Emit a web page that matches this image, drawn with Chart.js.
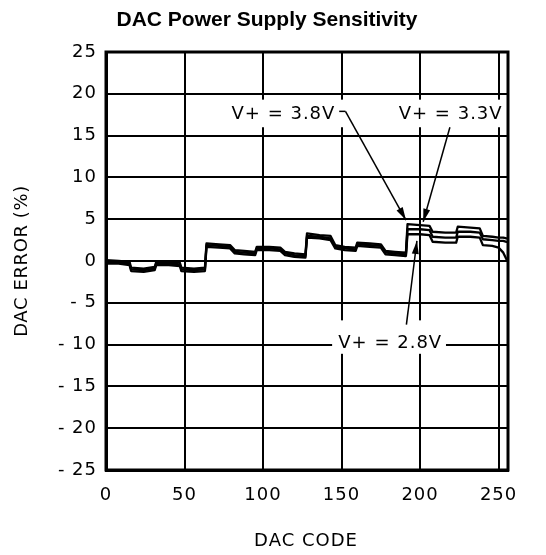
<!DOCTYPE html>
<html>
<head>
<meta charset="utf-8">
<script src="https://cdn.jsdelivr.net/npm/chart.js@4"></script>
<style>
  html, body { margin: 0; padding: 0; background: #fff; }
</style>
</head>
<body>
<canvas id="chart" width="546" height="555"></canvas>
<script>
// DAC code breakpoints (x) and error in % for the three supply voltages
const codes = [0, 8, 15, 16, 24, 31, 32, 40, 47, 48, 56, 63, 64, 72, 79, 82, 88, 95, 96, 104, 111, 114, 120, 127,
  128, 136, 143, 146, 152, 159, 160, 168, 175, 178, 184, 191, 192, 200, 206, 208, 216, 223, 224, 232, 238, 240, 246, 250, 253, 255];

const err38 = [0.1, 0.0, -0.1, -0.8, -0.9, -0.7, -0.1, -0.1, -0.2, -0.8, -0.9, -0.8, 2.1, 2.0, 1.9, 1.3, 1.2, 1.1, 1.7, 1.7, 1.6, 1.1, 0.9, 0.8,
  3.3, 3.1, 3.0, 1.9, 1.7, 1.6, 2.2, 2.1, 2.0, 1.2, 1.1, 1.0, 4.4, 4.3, 4.2, 3.5, 3.4, 3.4, 4.1, 4.0, 3.9, 3.0, 2.9, 2.8, 2.8, 2.7];

const err33 = [-0.1, -0.15, -0.3, -1.0, -1.1, -0.9, -0.3, -0.3, -0.4, -1.0, -1.1, -1.0, 1.9, 1.8, 1.7, 1.1, 1.0, 0.9, 1.5, 1.5, 1.4, 0.9, 0.7, 0.6,
  3.0, 2.9, 2.7, 1.7, 1.5, 1.4, 2.0, 1.9, 1.8, 1.0, 0.9, 0.8, 3.8, 3.8, 3.7, 2.9, 2.8, 2.8, 3.5, 3.5, 3.4, 2.6, 2.5, 2.4, 2.4, 2.3];

const err28 = [-0.3, -0.3, -0.5, -1.2, -1.3, -1.1, -0.5, -0.5, -0.6, -1.2, -1.3, -1.2, 1.7, 1.6, 1.5, 0.9, 0.8, 0.7, 1.3, 1.3, 1.2, 0.7, 0.5, 0.4,
  2.8, 2.7, 2.5, 1.5, 1.3, 1.2, 1.8, 1.7, 1.6, 0.8, 0.7, 0.6, 3.2, 3.2, 3.1, 2.3, 2.2, 2.2, 2.9, 2.9, 2.8, 1.9, 1.8, 1.6, 1.0, 0.2];

const xTicks = [0, 50, 100, 150, 200, 250];
const yTicks = [-25, -20, -15, -10, -5, 0, 5, 10, 15, 20, 25];

const labelFont = '18px "DejaVu Sans"';
const spacing = '1px';

function series(vals) {
  return codes.map((c, i) => ({ x: c, y: vals[i] }));
}

function arrow(ctx, x0, y0, x1, y1) {
  ctx.beginPath();
  ctx.moveTo(x0, y0);
  ctx.lineTo(x1, y1);
  ctx.stroke();
  const a = Math.atan2(y1 - y0, x1 - x0);
  const len = 13, w = 3.5;
  ctx.beginPath();
  ctx.moveTo(x1, y1);
  ctx.lineTo(x1 - len * Math.cos(a) + w * Math.sin(a), y1 - len * Math.sin(a) - w * Math.cos(a));
  ctx.lineTo(x1 - len * Math.cos(a) - w * Math.sin(a), y1 - len * Math.sin(a) + w * Math.cos(a));
  ctx.closePath();
  ctx.fill();
}

const notes = {
  id: 'notes',
  beforeDraw(chart) {
    chart.ctx.letterSpacing = spacing;
  },
  afterDatasetsDraw(chart) {
    const { ctx, chartArea: a, scales: { x, y } } = chart;
    ctx.save();

    // frame
    ctx.strokeStyle = '#000';
    ctx.lineWidth = 3;
    ctx.strokeRect(a.left, a.top, a.right - a.left, a.bottom - a.top);

    // white boxes behind the labels
    ctx.fillStyle = '#fff';
    ctx.fillRect(x.getPixelForValue(77), y.getPixelForValue(19.3),
      x.getPixelForValue(254.5) - x.getPixelForValue(77), y.getPixelForValue(16.0) - y.getPixelForValue(19.3));
    ctx.fillRect(x.getPixelForValue(144), y.getPixelForValue(-7.1),
      x.getPixelForValue(216.5) - x.getPixelForValue(144), y.getPixelForValue(-11.1) - y.getPixelForValue(-7.1));

    ctx.fillStyle = '#000';
    ctx.font = labelFont;
    ctx.letterSpacing = spacing;
    ctx.textAlign = 'center';
    ctx.textBaseline = 'middle';
    ctx.fillText('V+ = 3.8V', x.getPixelForValue(113), y.getPixelForValue(17.5));
    ctx.fillText('V+ = 3.3V', x.getPixelForValue(219.5), y.getPixelForValue(17.5));
    ctx.fillText('V+ = 2.8V', x.getPixelForValue(181), y.getPixelForValue(-9.8));

    // leaders
    ctx.lineWidth = 1.5;
    ctx.beginPath();
    ctx.moveTo(x.getPixelForValue(148.5), y.getPixelForValue(17.9));
    ctx.lineTo(x.getPixelForValue(152.5), y.getPixelForValue(17.9));
    ctx.stroke();
    arrow(ctx, x.getPixelForValue(152.5), y.getPixelForValue(17.9), x.getPixelForValue(191), y.getPixelForValue(4.9));
    arrow(ctx, x.getPixelForValue(219), y.getPixelForValue(16.0), x.getPixelForValue(202), y.getPixelForValue(4.7));
    arrow(ctx, x.getPixelForValue(191.3), y.getPixelForValue(-7.6), x.getPixelForValue(198), y.getPixelForValue(2.4));

    // titles
    ctx.fillText('DAC CODE', 306, 541);
    ctx.save();
    ctx.translate(22, 261);
    ctx.rotate(-Math.PI / 2);
    ctx.letterSpacing = '0.6px';
    ctx.fillText('DAC ERROR (%)', 0, 0);
    ctx.restore();
    ctx.letterSpacing = '0px';
    ctx.font = 'bold 21px "Liberation Sans", Arial, sans-serif';
    ctx.fillText('DAC Power Supply Sensitivity', 267, 20);
    ctx.restore();
  }
};

const lineStyle = { borderColor: '#000', borderWidth: 2.3, pointRadius: 0, tension: 0, fill: false,
  borderCapStyle: 'round', borderJoinStyle: 'round' };

new Chart(document.getElementById('chart'), {
  type: 'line',
  data: {
    datasets: [
      { label: 'V+ = 3.8V', data: series(err38), ...lineStyle },
      { label: 'V+ = 3.3V', data: series(err33), ...lineStyle },
      { label: 'V+ = 2.8V', data: series(err28), ...lineStyle }
    ]
  },
  options: {
    responsive: false,
    animation: false,
    layout: { padding: { top: 52, right: 38, left: 0, bottom: 0 } },
    plugins: { legend: { display: false }, tooltip: { enabled: false } },
    scales: {
      x: {
        type: 'linear',
        min: 0,
        max: 256,
        afterBuildTicks: s => { s.ticks = xTicks.map(v => ({ value: v })); },
        afterFit: s => { s.height = 85; },
        ticks: { color: '#000', font: { family: 'DejaVu Sans', size: 18 }, padding: 15, maxRotation: 0 },
        grid: { color: '#000', lineWidth: 2, drawTicks: false },
        border: { color: '#000', width: 3 }
      },
      y: {
        min: -25,
        max: 25,
        afterBuildTicks: s => { s.ticks = yTicks.map(v => ({ value: v })); },
        afterFit: s => { s.width = 106; },
        ticks: {
          color: '#000', font: { family: 'DejaVu Sans', size: 18 }, padding: 9,
          callback: v => v < 0 ? '- ' + Math.abs(v) : '' + v
        },
        grid: { color: '#000', lineWidth: 2, drawTicks: false },
        border: { color: '#000', width: 3 }
      }
    }
  },
  plugins: [notes]
});
</script>
</body>
</html>
